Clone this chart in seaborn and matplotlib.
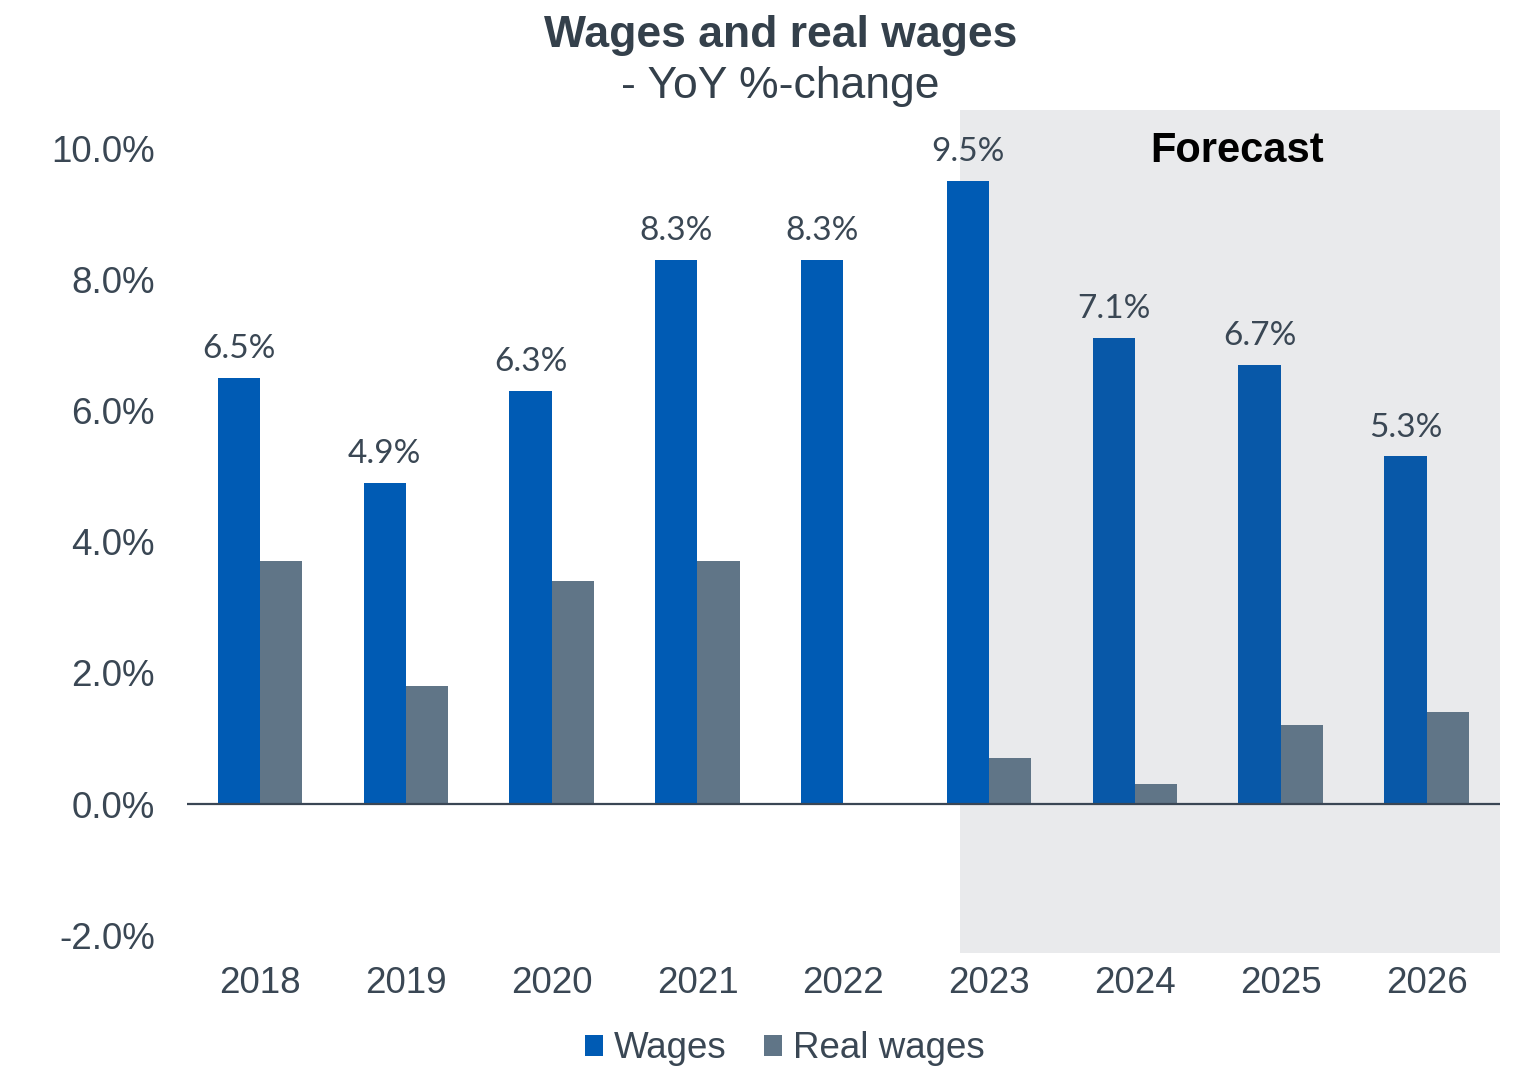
import numpy as np
import pandas as pd
import matplotlib
matplotlib.use("Agg")
import matplotlib.pyplot as plt
from matplotlib.patches import Patch, Rectangle
import seaborn as sns

years = ["2018", "2019", "2020", "2021", "2022", "2023", "2024", "2025", "2026"]
wages = [6.5, 4.9, 6.3, 8.3, 8.3, 9.5, 7.1, 6.7, 5.3]
real_wages = [3.7, 1.8, 3.4, 3.7, np.nan, 0.7, 0.3, 1.2, 1.4]
y_ticks = [-2, 0, 2, 4, 6, 8, 10]
forecast_years = ["2024", "2025", "2026"]

series_names = ["Wages", "Real wages"]
colors = {"Wages": "#005BB4", "Real wages": "#607587"}
forecast_wage_color = "#0858A8"
text_color = "#3A4754"

df = pd.DataFrame({
    "year": years * 2,
    "value": wages + real_wages,
    "series": [series_names[0]] * len(years) + [series_names[1]] * len(years),
})

sns.set_style("white")
plt.rcParams["font.family"] = ["Liberation Sans", "DejaVu Sans"]

fig = plt.figure(figsize=(15.27, 10.69), dpi=100)
ax = fig.add_axes([0.1225, 0.1085, 0.8595, 0.7885])

# forecast shading (behind bars)
ax.add_patch(Rectangle((4.80, -2.27), 8.5 - 4.80, 10.58 + 2.27,
                       facecolor="#E9EAEC", lw=0, zorder=0))

sns.barplot(data=df, x="year", y="value", hue="series", palette=colors,
            width=0.58, linewidth=0, saturation=1, ax=ax, legend=False,
            order=years, hue_order=series_names, zorder=2)

for yr, bar in zip(years, ax.containers[0].patches):
    if yr in forecast_years:
        bar.set_facecolor(forecast_wage_color)

ax.set_xlim(-0.5, 8.5)
ax.set_ylim(-2.27, 10.58)
ax.set_yticks(y_ticks)
ax.set_yticklabels([f"{v:.1f}%" for v in y_ticks], fontsize=26.5, color=text_color)
ax.set_xticks(range(len(years)))
ax.set_xticklabels(years, fontsize=26.5, color=text_color)
ax.tick_params(axis="y", length=0, pad=23)
ax.tick_params(axis="x", length=0, pad=9)
ax.set_xlabel("")
ax.set_ylabel("")
for s in ax.spines.values():
    s.set_visible(False)
ax.axhline(0, color="#3A4654", lw=1.6, zorder=3)

# data labels for wages
ax.bar_label(ax.containers[0], labels=[f"{v:.1f}%" for v in wages],
             padding=10, fontsize=24, color=text_color, family="Lato")

ax.text(6.70, 9.96, "Forecast", fontsize=30, fontweight="bold",
        color="black", ha="center", va="center", zorder=6)

fig.text(0.511, 0.967, "Wages and real wages", ha="center", va="center",
         fontsize=32, fontweight="bold", color="#34404B")
fig.text(0.511, 0.919, "- YoY %-change", ha="center", va="center",
         fontsize=32, color="#34404B")

handles = [Patch(facecolor=colors[n], edgecolor="none", label=n) for n in series_names]
leg = fig.legend(handles=handles, loc="center", bbox_to_anchor=(0.514, 0.019),
                 ncol=2, frameon=False, fontsize=26.5, handlelength=0.5,
                 handleheight=0.5, handletextpad=0.3, columnspacing=1.0)
for t in leg.get_texts():
    t.set_color(text_color)

fig.savefig("out.png", dpi=100)
